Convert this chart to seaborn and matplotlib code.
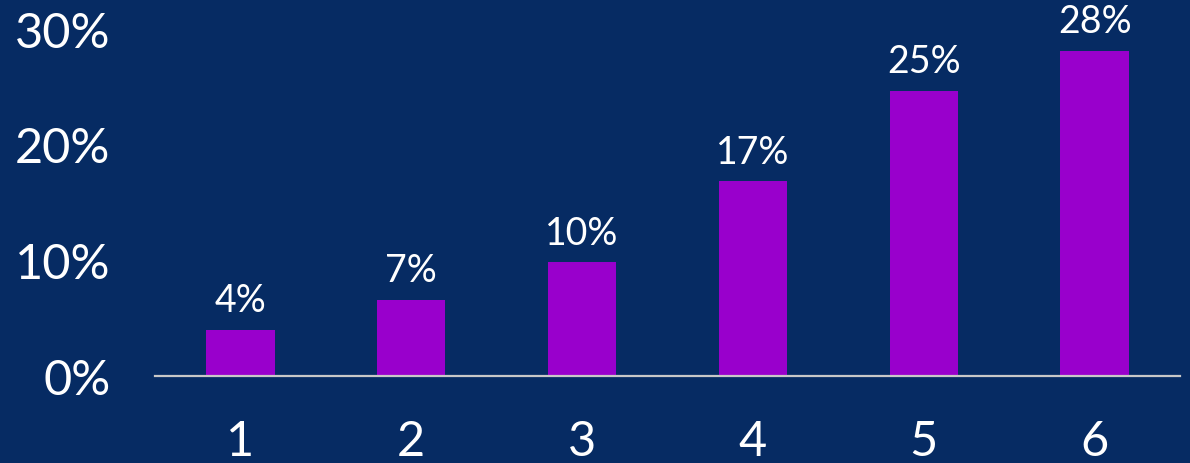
import matplotlib
matplotlib.use("Agg")
import matplotlib.pyplot as plt
import seaborn as sns
import pandas as pd

# data
categories = ["1", "2", "3", "4", "5", "6"]
values = [4.0, 6.6, 9.8, 16.8, 24.6, 28.1]
y_ticks = [0, 10, 20, 30]

BG = "#062B63"
BAR = "#9900CC"

sns.set_style("white")
plt.rcParams["font.family"] = ["Lato", "DejaVu Sans"]

df = pd.DataFrame({"cat": categories, "val": values})

fig = plt.figure(figsize=(11.9, 4.64), dpi=100, facecolor=BG)
ax = fig.add_axes([155 / 1190, 1 - 377 / 464, 1025 / 1190, (377 - 29.5) / 464])
ax.set_facecolor(BG)

sns.barplot(data=df, x="cat", y="val", color=BAR, width=0.4,
            saturation=1, linewidth=0, edgecolor="none", ax=ax)

ax.set_xlim(-0.5, 5.5)
ax.set_ylim(0, 30)
ax.set_yticks(y_ticks)
ax.set_yticklabels([f"{t}%" for t in y_ticks])
ax.set_xlabel("")
ax.set_ylabel("")

for side in ["top", "right", "left"]:
    ax.spines[side].set_visible(False)
ax.spines["bottom"].set_color("#C8C8C8")
ax.spines["bottom"].set_linewidth(1.6)
ax.spines["bottom"].set_zorder(5)

ax.tick_params(axis="both", length=0, colors="white", labelsize=35)
ax.tick_params(axis="x", pad=31)
ax.tick_params(axis="y", pad=32)

# value labels above bars
for i, v in enumerate(values):
    ax.annotate(f"{v:.0f}%", (i, v), xytext=(0, 13.5), textcoords="offset points",
                ha="center", va="baseline", color="white", fontsize=27,
                annotation_clip=False)

fig.savefig("out.png", dpi=100, facecolor=BG)
